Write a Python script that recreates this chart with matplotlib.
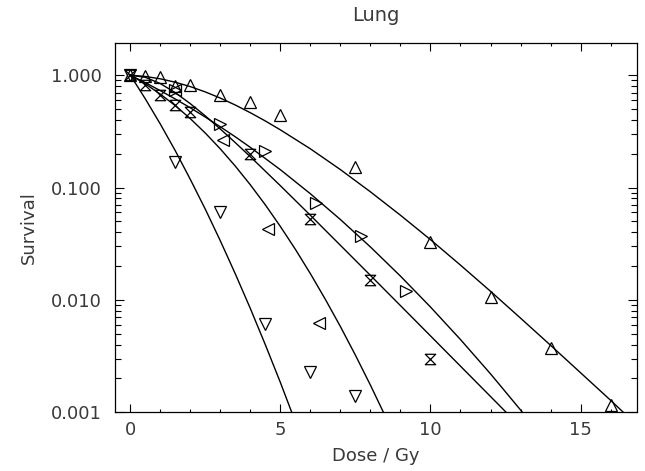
import numpy as np
import matplotlib
matplotlib.use("Agg")
import matplotlib.pyplot as plt
from matplotlib.path import Path
from matplotlib.ticker import FixedLocator, LogLocator, NullFormatter

# measured points (dose in Gy, surviving fraction)
up_dose = [0, 0.5, 1, 1.5, 2, 3, 4, 5, 7.5, 10, 12, 14, 16]
up_surv = [1.0, 0.98, 0.97, 0.80, 0.815, 0.66, 0.58, 0.44, 0.152, 0.033, 0.0106, 0.0037, 0.00115]

down_dose = [0, 1.5, 3, 4.5, 6, 7.5]
down_surv = [1.0, 0.169, 0.061, 0.0061, 0.0023, 0.0014]

left_dose = [1.5, 3.1, 4.6, 6.3]
left_surv = [0.74, 0.267, 0.043, 0.0062]

right_dose = [1.5, 3.0, 4.5, 6.2, 7.7, 9.2]
right_surv = [0.74, 0.37, 0.212, 0.073, 0.037, 0.012]

hour_dose = [0, 0.5, 1.0, 1.5, 2.0, 4.0, 6.0, 8.0, 10.0]
hour_surv = [1.0, 0.82, 0.67, 0.54, 0.47, 0.20, 0.053, 0.015, 0.003]

# fitted curves
down_fit_dose = [0, 0.5, 1, 1.5, 2, 2.5, 3, 3.5, 4, 4.5, 5, 5.5]
down_fit_surv = [1.0, 0.615, 0.367, 0.212, 0.118, 0.064, 0.0335, 0.0170, 0.00837, 0.00398, 0.00184, 0.00082]

left_fit_dose = [0, 0.5, 1, 1.5, 2, 2.5, 3, 3.5, 4, 4.5, 5, 5.5, 6, 6.5, 7, 7.5, 8, 8.5, 9]
left_fit_surv = [1.0, 0.836, 0.678, 0.535, 0.410, 0.305, 0.2205, 0.1548, 0.1056, 0.0700, 0.0450,
                 0.02817, 0.01711, 0.01009, 0.00579, 0.00322, 0.001743, 0.000917, 0.000468]

hour_fit_dose = [0, 0.5, 1, 1.5, 2, 2.5, 3, 3.5, 4, 5, 6, 7, 8, 9, 10, 11, 12, 13]
hour_fit_surv = [1.0, 0.957, 0.8415, 0.698, 0.557, 0.4337, 0.3315, 0.2506, 0.1879, 0.1038, 0.0566,
                 0.0306, 0.01653, 0.008903, 0.004788, 0.002574, 0.001383, 0.000743]

right_fit_dose = [0, 0.5, 1, 1.5, 2, 2.5, 3, 3.5, 4, 5, 6, 7, 8, 9, 10, 11, 12, 13, 13.5]
right_fit_surv = [1.0, 0.857, 0.728, 0.613, 0.512, 0.4235, 0.347, 0.2825, 0.2276, 0.1441, 0.0880,
                  0.0519, 0.0296, 0.01629, 0.00865, 0.00444, 0.0022, 0.00105, 0.000718]

up_fit_dose = [0, 0.5, 1, 1.5, 2, 2.5, 3, 3.5, 4, 4.5, 5, 6, 7, 8, 9, 10, 11, 12, 13, 14, 15, 16, 17]
up_fit_surv = [1.0, 0.974, 0.928, 0.865, 0.791, 0.709, 0.625, 0.542, 0.463, 0.391, 0.326, 0.221,
               0.1444, 0.0916, 0.0567, 0.0344, 0.0204, 0.01194, 0.00689, 0.00395, 0.00225,
               0.00128, 0.000717]

y_ticks = [0.001, 0.01, 0.1, 1.0]
y_ticklabels = ["0.001", "0.010", "0.100", "1.000"]

# hourglass marker
hourglass = Path([(-1, 1), (1, 1), (-1, -1), (1, -1), (-1, 1)],
                 [Path.MOVETO, Path.LINETO, Path.LINETO, Path.LINETO, Path.CLOSEPOLY])

plt.rcParams['font.family'] = ['DejaVu Sans']
text_color = '#3a3a3a'
fs = 13

fig = plt.figure(figsize=(6.45, 4.71), dpi=100)
ax = fig.add_axes([0.1788, 0.1246, 0.8083, 0.7834])

line_kw = dict(color='black', linewidth=1.0, zorder=2)
for xd, yd in [(down_fit_dose, down_fit_surv), (left_fit_dose, left_fit_surv),
               (hour_fit_dose, hour_fit_surv), (right_fit_dose, right_fit_surv),
               (up_fit_dose, up_fit_surv)]:
    ax.plot(xd, yd, **line_kw)

mk = dict(linestyle='none', markerfacecolor='none', markeredgecolor='black',
          markeredgewidth=0.9, zorder=3)
ax.plot(up_dose, up_surv, marker='^', markersize=8.5, **mk)
ax.plot(down_dose, down_surv, marker='v', markersize=8.5, **mk)
ax.plot(left_dose, left_surv, marker='<', markersize=8.5, **mk)
ax.plot(right_dose, right_surv, marker='>', markersize=8.5, **mk)
ax.plot(hour_dose, hour_surv, marker=hourglass, markersize=7.5, **mk)

ax.set_yscale('log')
ax.set_xlim(-0.5, 16.87)
ax.set_ylim(0.001, 1.92)

ax.set_xticks([0, 5, 10, 15])
ax.xaxis.set_minor_locator(FixedLocator(np.arange(0, 17, 1)))
ax.set_yticks(y_ticks)
ax.set_yticklabels(y_ticklabels)
ax.yaxis.set_minor_locator(LogLocator(base=10, subs=np.arange(2, 10)))
ax.yaxis.set_minor_formatter(NullFormatter())

ax.tick_params(axis='both', which='both', direction='in', top=True, right=True,
               colors='black', labelcolor=text_color, labelsize=fs, width=0.8)
ax.tick_params(axis='x', which='major', length=6, pad=6)
ax.tick_params(axis='x', which='minor', length=2.5)
ax.tick_params(axis='y', which='major', length=6.5, pad=10)
ax.tick_params(axis='y', which='minor', length=4.5)

for s in ax.spines.values():
    s.set_linewidth(0.9)

ax.set_title('Lung', fontsize=14, color=text_color, pad=16)
ax.set_xlabel('Dose / Gy', fontsize=fs, color=text_color, labelpad=6)
ax.set_ylabel('Survival', fontsize=fs, color=text_color, labelpad=9)

fig.savefig('out.png', dpi=100)
